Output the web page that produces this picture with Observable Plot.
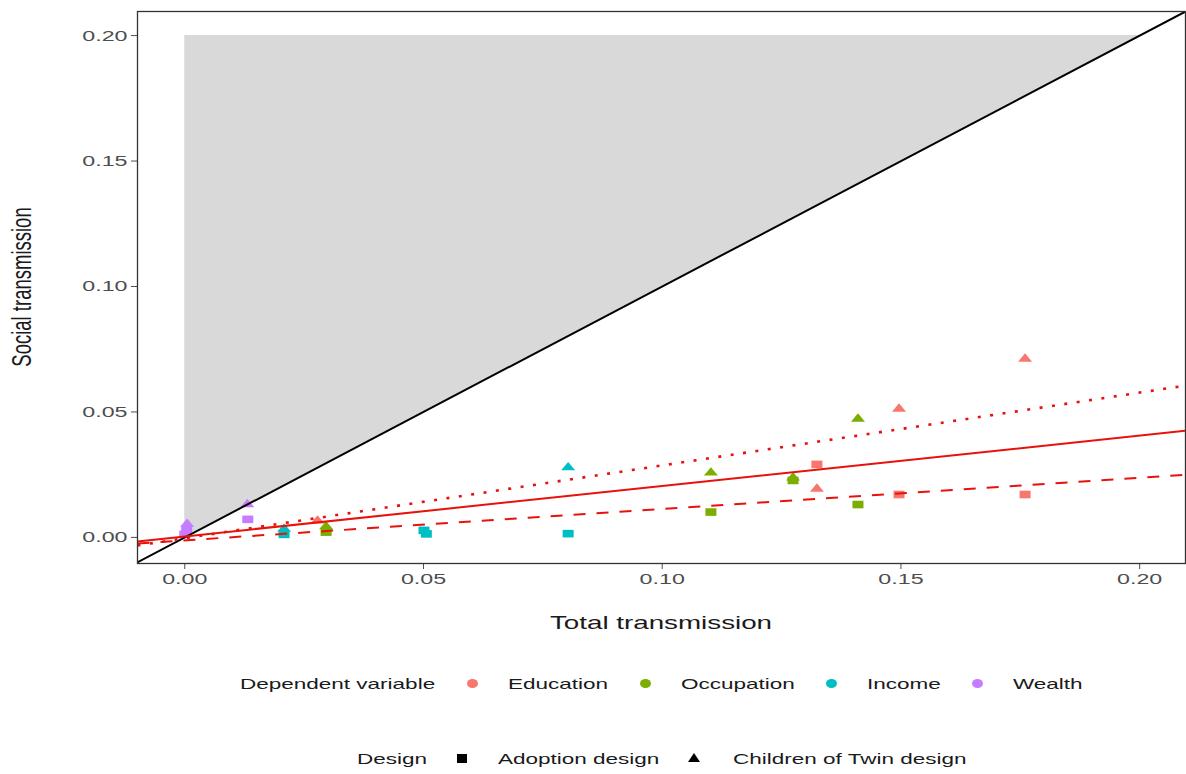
<!DOCTYPE html>
<html>
<head>
<meta charset="utf-8">
<script src="https://cdn.jsdelivr.net/npm/d3@7"></script>
<script src="https://cdn.jsdelivr.net/npm/@observablehq/plot@0.6"></script>
<style>
  body { margin: 0; background: #fff; font-family: "Liberation Sans", Arial, sans-serif; }
  #wrap { position: relative; width: 1186px; height: 774px; overflow: hidden; }
  #chart { position: absolute; left: 0; top: 0; }
  .t { position: absolute; left: 0; top: 0; white-space: nowrap; line-height: 1; transform-origin: 0 0; color: #1a1a1a; }
  .key { position: absolute; }
</style>
</head>
<body>
<div id="wrap"><div id="chart"></div></div>
<script>
// ---------- data ----------
const variables = ["Education", "Occupation", "Income", "Wealth"];
const variableColors = ["#F8766D", "#7CAE00", "#00BFC4", "#C77CFF"];
const designs = ["Adoption design", "Children of Twin design"];

const pointVariable = [
  "Education", "Education", "Education", "Education", "Education", "Education", "Education",
  "Occupation", "Occupation", "Occupation", "Occupation", "Occupation", "Occupation", "Occupation", "Occupation",
  "Income", "Income", "Income", "Income", "Income", "Income",
  "Wealth", "Wealth", "Wealth", "Wealth", "Wealth"
];
const pointDesign = [
  "Children of Twin design", "Children of Twin design", "Adoption design", "Children of Twin design", "Adoption design", "Adoption design", "Children of Twin design",
  "Children of Twin design", "Children of Twin design", "Children of Twin design", "Adoption design", "Adoption design", "Adoption design", "Children of Twin design", "Adoption design",
  "Children of Twin design", "Adoption design", "Adoption design", "Adoption design", "Children of Twin design", "Adoption design",
  "Children of Twin design", "Adoption design", "Children of Twin design", "Adoption design", "Adoption design"
];
const totalTransmission = [
  0.1760, 0.1496, 0.1324, 0.1324, 0.1496, 0.1760, 0.0278,
  0.1410, 0.1102, 0.1274, 0.1274, 0.1102, 0.1410, 0.0296, 0.0296,
  0.0803, 0.0803, 0.0501, 0.0506, 0.0208, 0.0208,
  0.0131, 0.0132, 0.0005, 0.0004, 0.0000
];
const socialTransmission = [
  0.0713, 0.0514, 0.0291, 0.0195, 0.0171, 0.0171, 0.0068,
  0.0474, 0.0259, 0.0240, 0.0227, 0.0101, 0.0131, 0.0045, 0.0021,
  0.0280, 0.0015, 0.0028, 0.0014, 0.0035, 0.0012,
  0.0133, 0.0072, 0.0055, 0.0032, 0.0012
];

// shaded region (social > total)
const shadeTotal = [0, 0.2];
const shadeLower = [0, 0.2];
const shadeUpper = [0.2, 0.2];

// identity line
const diagonalTotal = [-0.02, 0.22];
const diagonalSocial = [-0.02, 0.22];

// fitted lines (endpoints at the panel edges)
const fitTotal = [-0.0099, 0.2096];
const fitSolid = [-0.0016, 0.0425];
const fitDotted = [-0.0032, 0.0605];
const fitDashed = [-0.0024, 0.0250];

const xDomain = [-0.0099, 0.2096];
const yDomain = [-0.0104, 0.2096];
const xTicks = [0, 0.05, 0.10, 0.15, 0.20];
const yTicks = [0, 0.05, 0.10, 0.15, 0.20];

// ---------- build tables ----------
const points = pointVariable.map((v, i) => ({
  variable: v, design: pointDesign[i], total: totalTransmission[i], social: socialTransmission[i]
}));
const shade = shadeTotal.map((x, i) => ({x, lo: shadeLower[i], hi: shadeUpper[i]}));
const diagonal = diagonalTotal.map((x, i) => ({x, y: diagonalSocial[i]}));
const fitLine = (ys) => fitTotal.map((x, i) => ({x, y: ys[i]}));

// stretched symbols (the reference is horizontally stretched)
const squareSym = { draw(ctx) { ctx.rect(-5.5, -3.8, 11, 7.6); } };
const triangleSym = { draw(ctx) { ctx.moveTo(0, -5.2); ctx.lineTo(7, 3.2); ctx.lineTo(-7, 3.2); ctx.closePath(); } };

const plot = Plot.plot({
  width: 1186,
  height: 600,
  marginLeft: 137,
  marginRight: 1,
  marginTop: 11,
  marginBottom: 37,
  style: { fontFamily: "'Liberation Sans', Arial, sans-serif", fontSize: "15.5px", color: "#4d4d4d", background: "#fff" },
  x: { domain: xDomain, ticks: xTicks, tickFormat: ".2f", tickSize: 6, tickPadding: 3, label: null },
  y: { domain: yDomain, ticks: yTicks, tickFormat: ".2f", tickSize: 6, tickPadding: 4, label: null },
  color: { domain: variables, range: variableColors },
  marks: [
    Plot.areaY(shade, { x: "x", y1: "lo", y2: "hi", fill: "#d9d9d9" }),
    Plot.dot(points.filter(d => d.design === designs[0]), { x: "total", y: "social", fill: "variable", symbol: squareSym, r: 5 }),
    Plot.dot(points.filter(d => d.design === designs[1]), { x: "total", y: "social", fill: "variable", symbol: triangleSym, r: 5 }),
    Plot.line(diagonal, { x: "x", y: "y", stroke: "#000", strokeWidth: 2, clip: true }),
    Plot.line(fitLine(fitSolid), { x: "x", y: "y", stroke: "#e8120c", strokeWidth: 2, clip: true }),
    Plot.line(fitLine(fitDotted), { x: "x", y: "y", stroke: "#e8120c", strokeWidth: 2.6, strokeDasharray: "3,9.5", strokeLinecap: "butt", clip: true }),
    Plot.line(fitLine(fitDashed), { x: "x", y: "y", stroke: "#e8120c", strokeWidth: 2, strokeDasharray: "12,11", strokeLinecap: "butt", clip: true }),
    Plot.frame({ stroke: "#333", strokeWidth: 1.3 })
  ]
});
document.getElementById("chart").appendChild(plot);

// stretch tick labels horizontally like the reference (scale about their anchor)
d3.select(plot).selectAll('g[aria-label="x-axis tick label"] text, g[aria-label="y-axis tick label"] text')
  .each(function () {
    const s = d3.select(this);
    const t = s.attr("transform") || "";
    s.attr("transform", `${t} scale(1.5,1)`);
  });

// ---------- titles & legends (HTML) ----------
const wrap = d3.select("#wrap");
function addText(txt, x, y, size, extra) {
  wrap.append("div").attr("class", "t").text(txt)
    .style("font-size", size + "px")
    .style("transform", `translate(${x}px, ${y}px) ${extra}`);
}
addText("Total transmission", 661, 623, 18.5, "scaleX(1.5) translate(-50%, -50%)");
addText("Social transmission", 22, 287, 18.5, "scaleX(1.5) rotate(-90deg) translate(-50%, -50%)");

// colour legend
addText("Dependent variable", 240, 683, 15, "scaleX(1.5) translate(0, -50%)");
const colorKeyX = [472, 645, 831, 977];
const colorTextX = [508, 681, 867, 1013];
variables.forEach((v, i) => {
  wrap.append("div").attr("class", "key")
    .style("left", (colorKeyX[i] - 5.5) + "px").style("top", (683 - 4.5) + "px")
    .style("width", "11px").style("height", "9px").style("border-radius", "50%")
    .style("background", variableColors[i]);
  addText(v, colorTextX[i], 683, 15, "scaleX(1.5) translate(0, -50%)");
});

// design legend
addText("Design", 357, 758, 15, "scaleX(1.5) translate(0, -50%)");
const designKeyX = [462, 694];
const designTextX = [498, 733];
designs.forEach((d, i) => {
  const k = wrap.append("div").attr("class", "key").style("background", "#000");
  if (i === 0) {
    k.style("left", (designKeyX[i] - 5) + "px").style("top", (758 - 4.5) + "px")
     .style("width", "10px").style("height", "9px");
  } else {
    k.style("left", (designKeyX[i] - 6) + "px").style("top", (758 - 5) + "px")
     .style("width", "12px").style("height", "9px")
     .style("clip-path", "polygon(50% 0, 100% 100%, 0 100%)");
  }
  addText(d, designTextX[i], 758, 15, "scaleX(1.5) translate(0, -50%)");
});
</script>
</body>
</html>
